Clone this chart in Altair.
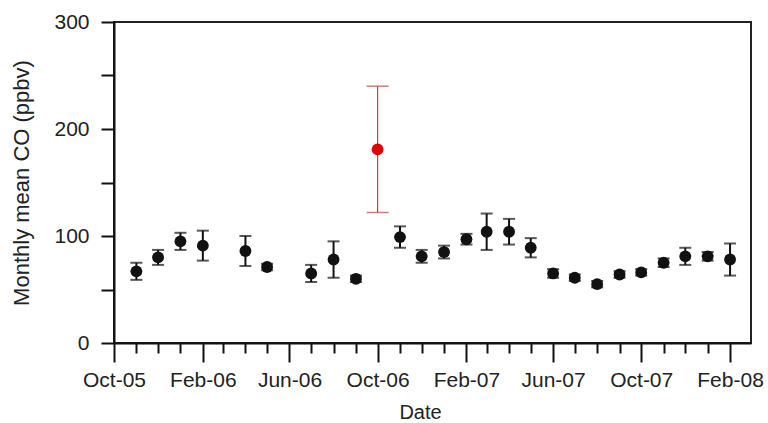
import altair as alt
import pandas as pd

# Monthly mean CO (ppbv) with error half-widths
dates = ["2005-11-01", "2005-12-01", "2006-01-01", "2006-02-01", "2006-04-01",
         "2006-05-01", "2006-07-01", "2006-08-01", "2006-09-01",
         "2006-11-01", "2006-12-01", "2007-01-01", "2007-02-01", "2007-03-01",
         "2007-04-01", "2007-05-01", "2007-06-01", "2007-07-01", "2007-08-01",
         "2007-09-01", "2007-10-01", "2007-11-01", "2007-12-01", "2008-01-01",
         "2008-02-01"]
means = [67, 80, 95, 91, 86, 71, 65, 78, 60, 99, 81, 85, 97, 104, 104, 89,
         65, 61, 55, 64, 66, 75, 81, 81, 78]
errs = [8, 7, 8, 14, 14, 3, 8, 17, 3, 10, 6, 6, 5, 17, 12, 9, 4, 3, 3, 3, 3,
        4, 8, 4, 15]

# Outlier month (red)
red_dates = ["2006-10-01"]
red_means = [181]
red_errs = [59]

df = pd.DataFrame({"date": dates, "mean": means, "err": errs})
df["lo"] = df["mean"] - df["err"]
df["hi"] = df["mean"] + df["err"]
rdf = pd.DataFrame({"date": red_dates, "mean": red_means, "err": red_errs})
rdf["lo"] = rdf["mean"] - rdf["err"]
rdf["hi"] = rdf["mean"] + rdf["err"]

def ms(s):
    return int(pd.Timestamp(s, tz="UTC").value // 10**6)

x_domain = [ms("2005-10-01"), ms("2008-03-01")]
x_ticks = [ms(d) for d in pd.date_range("2005-10-01", "2008-02-01", freq="MS").strftime("%Y-%m-%d")]

FONT = "Liberation Sans"
TXT = "#222222"

x_axis = alt.Axis(
    values=x_ticks,
    labelExpr="utcmonth(datum.value) % 4 == 1 ? utcFormat(datum.value, '%b-%y') : ''",
    tickSize={"condition": {"test": "utcmonth(datum.value) % 4 == 1", "value": 19}, "value": 10},
    tickWidth=2, tickColor="#111", domainColor="#111", domainWidth=2,
    labelFontSize=21, labelFont=FONT, labelColor=TXT, labelPadding=7,
    labelOverlap=False, labelFlush=False, grid=False,
    title="Date", titleFontSize=20, titleFont=FONT, titleFontWeight="normal",
    titleColor=TXT, titlePadding=12, titleX=306,
)
y_axis = alt.Axis(
    values=[0, 50, 100, 150, 200, 250, 300],
    labelExpr="datum.value % 100 == 0 ? datum.label : ''",
    tickSize=13, tickWidth=2, tickColor="#111", domainColor="#111", domainWidth=2,
    labelFontSize=21, labelFont=FONT, labelColor=TXT, labelPadding=12,
    labelFlush=False, grid=False,
    title="Monthly mean CO (ppbv)", titleFontSize=22, titleFont=FONT,
    titleFontWeight="normal", titleColor=TXT, titlePadding=20,
)

X = alt.X("date:T", scale=alt.Scale(type="utc", domain=x_domain), axis=x_axis)
Y = alt.Y("mean:Q", scale=alt.Scale(domain=[0, 300]), axis=y_axis)

base = alt.Chart(df)
rbase = alt.Chart(rdf)

bars = base.mark_rule(color="#111", strokeWidth=2).encode(
    x=X, y=alt.Y("lo:Q"), y2="hi:Q")
caps_lo = base.mark_tick(color="#111", orient="horizontal", size=12, thickness=2).encode(
    x=X, y=alt.Y("lo:Q"))
caps_hi = base.mark_tick(color="#111", orient="horizontal", size=12, thickness=2).encode(
    x=X, y=alt.Y("hi:Q"))
pts = base.mark_point(filled=True, shape="circle", size=140, color="#111", opacity=1).encode(
    x=X, y=Y)

rbars = rbase.mark_rule(color="#b8483c", strokeWidth=1.2).encode(
    x=X, y=alt.Y("lo:Q"), y2="hi:Q")
rcaps_lo = rbase.mark_tick(color="#b8483c", orient="horizontal", size=22, thickness=1.5).encode(
    x=X, y=alt.Y("lo:Q"))
rcaps_hi = rbase.mark_tick(color="#b8483c", orient="horizontal", size=22, thickness=1.5).encode(
    x=X, y=alt.Y("hi:Q"))
rpts = rbase.mark_point(filled=True, shape="circle", size=140, color="#e00000", opacity=1).encode(
    x=X, y=Y)

chart = alt.layer(
    bars, caps_lo, caps_hi, rbars, rcaps_lo, rcaps_hi, pts, rpts
).properties(
    width=637, height=321,
    autosize=alt.AutoSizeParams(type="none"),
    padding={"left": 114, "top": 22, "right": 17, "bottom": 80},
    background="white",
).configure_view(
    stroke="#222", strokeWidth=2
)

chart.save("out.html", embed_options={"renderer": "svg", "actions": False})
